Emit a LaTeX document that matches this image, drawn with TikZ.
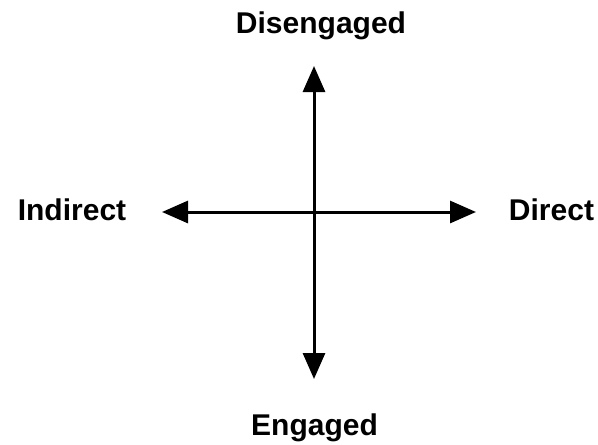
\documentclass[tikz,border=0pt]{standalone}
\usepackage{fontspec}
\setmainfont{Liberation Sans}
\usetikzlibrary{arrows.meta}
\tikzset{
    axis/.style={line width=3pt, {Triangle[length=26pt,width=22pt]}-{Triangle[length=26pt,width=22pt]}},
    pole/.style={anchor=base, inner sep=0pt, font=\fontsize{30}{36}\selectfont\bfseries}
}
\begin{document}
\begin{tikzpicture}[x=1pt,y=-1pt]
            \useasboundingbox (0,0) rectangle (598,445);

            \coordinate (top) at (314,66); \coordinate (bottom) at (314,379);
            \coordinate (left) at (162,212); \coordinate (right) at (476,212);

            \node[pole] (disengaged) at (321,33) {Disengaged};
            \node[pole] (engaged) at (314.5,435) {Engaged};
            \node[pole] (indirect) at (72,220) {Indirect};
            \node[pole] (direct) at (551.5,220) {Direct};

            \draw[axis] (top) -- (bottom);
            \draw[axis] (left) -- (right);
        \end{tikzpicture}
\end{document}
